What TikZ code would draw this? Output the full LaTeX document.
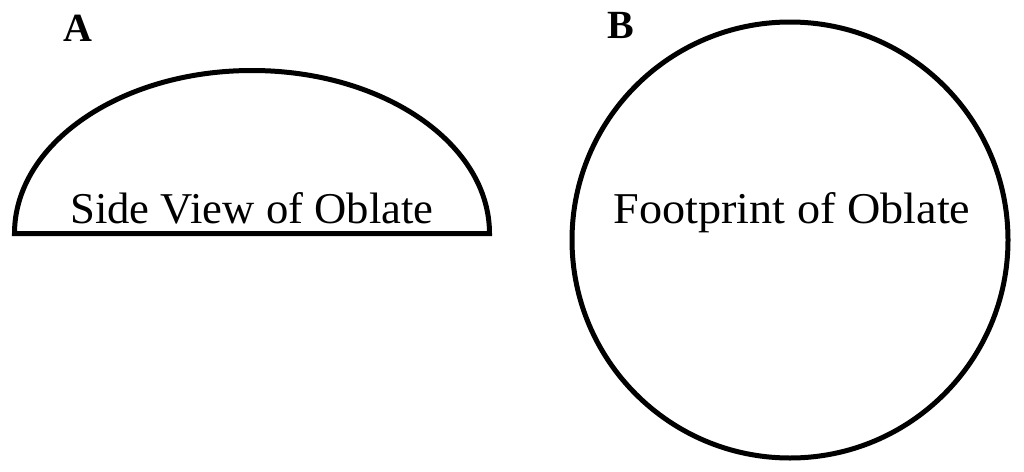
\documentclass[tikz,border=0pt]{standalone}
\usepackage{fontspec}
\setmainfont{Liberation Serif}
\begin{document}
\begin{tikzpicture}[x=1pt,y=-1pt,
  outline/.style={draw=black,line width=5pt},
  panel/.style={font=\fontsize{40}{40}\selectfont\bfseries,inner sep=0pt,anchor=base west},
  caption/.style={font=\fontsize{44}{44}\selectfont,inner sep=0pt,anchor=base}]
\useasboundingbox (0,0) rectangle (1024,471);
\fill[white] (0,0) rectangle (1024,471);
% A: side view
\coordinate (domeL) at (14.5,233.5);
\draw[outline] (domeL) arc[start angle=180,end angle=0,x radius=237.5pt,y radius=163pt] -- cycle;
\node[panel] (labA) at (63,41) {A};
\node[caption] (side) at (252,223) {\scalebox{1.015}[1]{Side View of Oblate}};
% B: footprint
\coordinate (fpC) at (790,240);
\draw[outline] (fpC) circle[radius=218pt];
\node[panel] (labB) at (607,38) {B};
\node[caption] (foot) at (792,223) {\scalebox{1.05}[1]{Footprint of Oblate}};
\end{tikzpicture}
\end{document}
